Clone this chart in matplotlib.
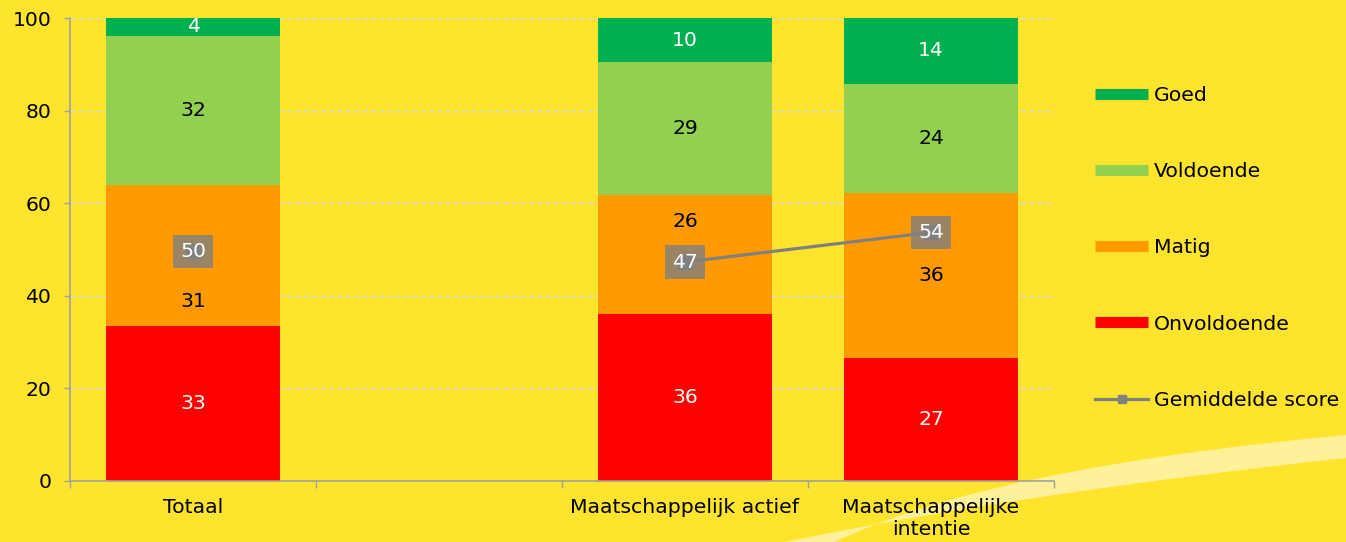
import matplotlib.pyplot as plt
from matplotlib.lines import Line2D
from matplotlib.path import Path
from matplotlib.patches import PathPatch
import numpy as np

# ---------------- Data ----------------
categories = ["Totaal", "", "Maatschappelijk actief", "Maatschappelijke\nintentie"]
onvoldoende = [33.4, np.nan, 36.1, 26.6]
matig = [30.6, np.nan, 25.7, 35.6]
voldoende = [32.2, np.nan, 28.6, 23.6]
goed = [3.8, np.nan, 9.6, 14.2]
gemiddelde = [49.6, np.nan, 47.3, 53.7]

# ---------------- Style ----------------
BG = "#FFE42D"
FS = 14.7
plt.rcParams["font.family"] = "DejaVu Sans"

series = [
    ("Onvoldoende", onvoldoende, "#FF0000", "white"),
    ("Matig", matig, "#FF9A00", "black"),
    ("Voldoende", voldoende, "#92D050", "black"),
    ("Goed", goed, "#00B050", "white"),
]
# manual nudges of value labels (data units), like in the original
label_shift = {"Matig": [-10, 0, 7, 0]}

W, H = 1346, 542
fig = plt.figure(figsize=(W / 100, H / 100), dpi=100, facecolor=BG)
ax = fig.add_axes([70 / W, 1 - 481 / H, 984 / W, 463 / H])
ax.set_facecolor("none")

# decorative light swoosh in the lower right corner (figure pixels)
pts = [(835, 542), (988, 468), (1346, 435), (1346, 458), (1030, 492), (784, 542), (835, 542)]
codes = [Path.MOVETO, Path.CURVE3, Path.CURVE3, Path.LINETO, Path.CURVE3, Path.CURVE3, Path.CLOSEPOLY]
swoosh = Path([(px / W, 1 - py / H) for px, py in pts], codes)
fig.patches.append(PathPatch(swoosh, transform=fig.transFigure, fc="#FFF09A", ec="none", zorder=-5))

x = np.arange(len(categories))
width = 0.71
bottom = np.zeros(len(categories))
for name, vals, color, txtcol in series:
    vals = np.array(vals, dtype=float)
    ok = ~np.isnan(vals)
    ax.bar(x[ok], vals[ok], width, bottom=bottom[ok], color=color, zorder=2)
    shifts = label_shift.get(name, [0] * len(vals))
    for i in np.where(ok)[0]:
        ax.text(x[i], bottom[i] + vals[i] / 2 + shifts[i], f"{vals[i]:.0f}",
                ha="center", va="center", color=txtcol, fontsize=FS, zorder=4)
    bottom[ok] += vals[ok]

score = np.array(gemiddelde, dtype=float)
ax.plot(x, score, color="#808080", lw=2.3, marker="s", ms=10, zorder=3)
for i in np.where(~np.isnan(score))[0]:
    ax.text(x[i], score[i], f"{score[i]:.0f}", ha="center", va="center", color="white",
            fontsize=FS, zorder=5,
            bbox=dict(boxstyle="square,pad=0.35", fc="#808080", ec="none", alpha=0.8))

# ---------------- Axes ----------------
ax.set_xlim(-0.5, len(categories) - 0.5)
ax.set_ylim(0, 100)
ax.set_yticks(range(0, 101, 20))
ax.set_xticks(x)
ax.set_xticklabels(categories, fontsize=FS, linespacing=1.15)
ax.set_xticks(np.arange(-0.5, len(categories), 1), minor=True)
ax.tick_params(axis="x", which="major", length=0, pad=12.5)
ax.tick_params(axis="x", which="minor", length=5, color="#A0A0A0", width=1)
ax.tick_params(axis="y", length=4.5, color="#A0A0A0", width=1, pad=9, labelsize=FS)
ax.yaxis.grid(True, color="#D9D9D9", linestyle=(0, (4, 2)), lw=1, zorder=0)
ax.set_axisbelow(True)
for s in ["top", "right"]:
    ax.spines[s].set_visible(False)
for s in ["left", "bottom"]:
    ax.spines[s].set_color("#A0A0A0")
    ax.spines[s].set_linewidth(1.2)

# ---------------- Legend ----------------
handles = [Line2D([], [], color=c, lw=8, solid_capstyle="butt") for _, _, c, _ in series[::-1]]
labels = [n for n, _, _, _ in series[::-1]]
handles.append(Line2D([], [], color="#808080", lw=2.3, marker="s", ms=6))
labels.append("Gemiddelde score")
fig.legend(handles, labels, loc="upper left", bbox_to_anchor=(1095 / W, 1 - 86 / H),
           frameon=False, fontsize=FS, handlelength=2.6, handletextpad=0.3,
           labelspacing=2.8, borderaxespad=0, borderpad=0)

fig.savefig("out.png", dpi=100, facecolor=BG)
